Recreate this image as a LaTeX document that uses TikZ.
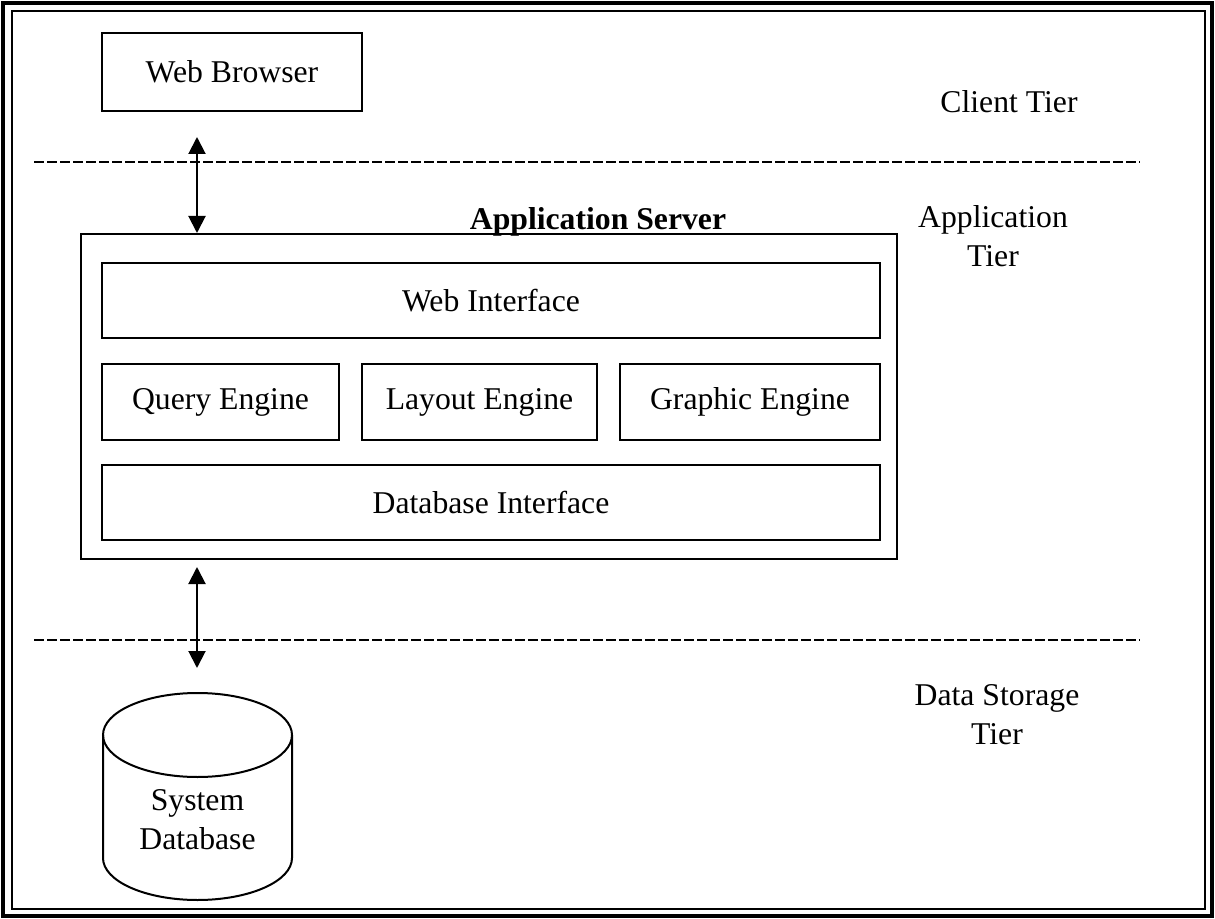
\documentclass[tikz,border=0pt]{standalone}
\usepackage{fontspec}
\setmainfont{Liberation Serif}
\usetikzlibrary{arrows.meta}

\begin{document}
\begin{tikzpicture}[x=0.5pt, y=-0.5pt,
    box/.style={draw, line width=1pt, inner sep=0pt},
    tier/.style={align=center},
    divider/.style={line width=1.4pt, dash pattern=on 5pt off 1.5pt},
    link/.style={line width=1pt, {Triangle[length=8.5pt,width=8.5pt]}-{Triangle[length=8.5pt,width=8.5pt]}},
    font=\fontsize{15.85pt}{19.5pt}\selectfont]

    \useasboundingbox (0,0) rectangle (1215,919);

    % Draw the double frame
    \draw[line width=1.6pt] (3,3) rectangle (1212,916);
    \draw[line width=1pt] (12,11) rectangle (1205,909);

    % Client tier
    \node[box, minimum width=130pt, minimum height=39pt] (browser) at (232,72) {Web Browser};
    \node[tier] (clienttier) at (1009,102) {Client Tier};
    \draw[divider] (34,162) -- (1140,162);

    % Application server with its parts
    \node[box, minimum width=408pt, minimum height=162.5pt] (server) at (489,396.5) {};
    \node (servertitle) at (598,222) {\bfseries Application Server};
    \node[box, minimum width=389pt, minimum height=37.5pt] (webif) at (491,300.5) {Web Interface};
    \node[box, minimum width=118.5pt, minimum height=38pt] (query) at (220.5,402) {Query Engine};
    \node[box, minimum width=117.5pt, minimum height=38pt] (layout) at (479.5,402) {Layout Engine};
    \node[box, minimum width=130pt, minimum height=38pt] (graphic) at (750,402) {Graphic Engine};
    \node[box, minimum width=389pt, minimum height=37.5pt] (dbif) at (491,502.5) {Database Interface};
    \node[tier] (apptier) at (993,236) {Application\\Tier};

    % Arrows between the tiers
    \coordinate (upend) at (197,137);
    \draw[link] (upend) -- (upend |- server.north);
    \coordinate (downend) at (197,668);
    \draw[link, shorten <=3.5pt] (downend |- server.south) -- (downend);

    \draw[divider] (34,640) -- (1140,640);
    \node[tier] (datatier) at (997,715) {Data Storage\\Tier};

    % Squashed circles and sides of the database drum
    \draw[line width=1pt] (197.5,735) ellipse (94.5 and 42);
    \draw[line width=1pt] (103,735) -- (103,858) arc (180:0:94.5 and 42) -- (292,735);
    \node[tier] (sysdb) at (197.5,820) {System\\Database};

\end{tikzpicture}
\end{document}
